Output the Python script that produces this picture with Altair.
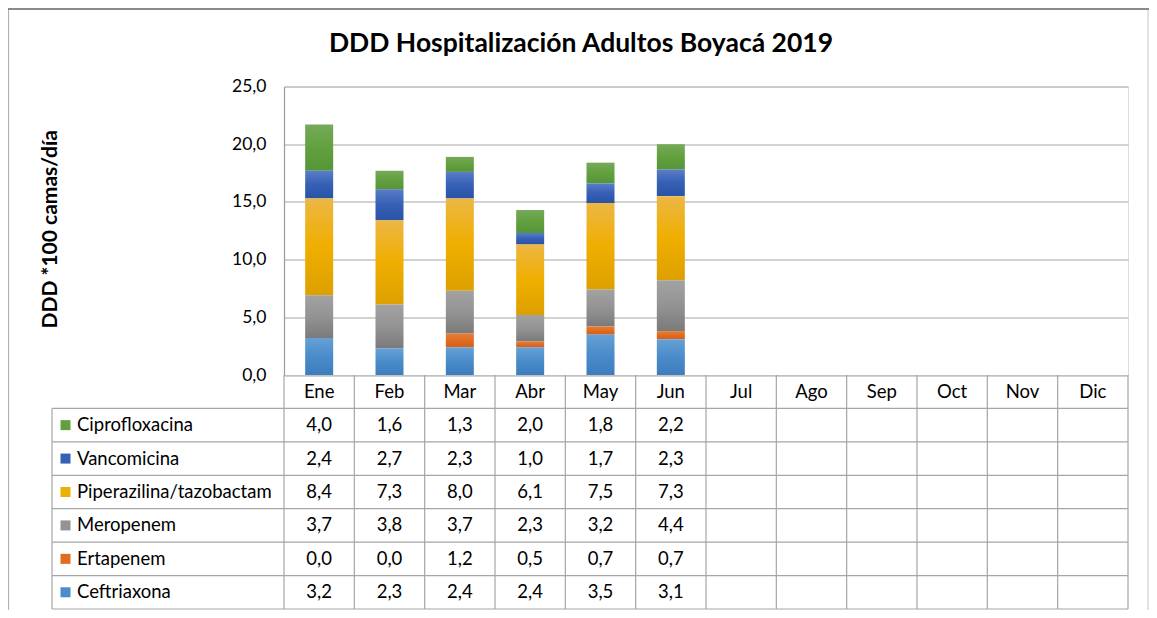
import altair as alt
import pandas as pd

months = ["Ene", "Feb", "Mar", "Abr", "May", "Jun", "Jul", "Ago", "Sep", "Oct", "Nov", "Dic"]
series = ["Ciprofloxacina", "Vancomicina", "Piperazilina/tazobactam", "Meropenem", "Ertapenem", "Ceftriaxona"]

ciprofloxacina = [4.0, 1.6, 1.3, 2.0, 1.8, 2.2]
vancomicina = [2.4, 2.7, 2.3, 1.0, 1.7, 2.3]
piperazilina = [8.4, 7.3, 8.0, 6.1, 7.5, 7.3]
meropenem = [3.7, 3.8, 3.7, 2.3, 3.2, 4.4]
ertapenem = [0.0, 0.0, 1.2, 0.5, 0.7, 0.7]
ceftriaxona = [3.2, 2.3, 2.4, 2.4, 3.5, 3.1]

y_ticks = [0, 5, 10, 15, 20, 25]
title_text = "DDD Hospitalización Adultos Boyacá 2019"

# colours: flat swatch, gradient top / mid / bottom
flat = ["#62a03e", "#3560b5", "#ebb000", "#939393", "#e06c22", "#4a8bc9"]
grads = [
    ("#76a95a", "#62a03e", "#56943a"),
    ("#5a7dc6", "#3560b5", "#2a53a6"),
    ("#ecb745", "#f0ae00", "#dca000"),
    ("#a2a2a2", "#939393", "#7a7a7a"),
    ("#e47d38", "#e06c22", "#d2601a"),
    ("#66a1d6", "#4a8bc9", "#3d7dbe"),
]

all_vals = [ciprofloxacina, vancomicina, piperazilina, meropenem, ertapenem, ceftriaxona]
rows = []
for i, (s, vals) in enumerate(zip(series, all_vals)):
    for m, v in zip(months, vals):
        rows.append({"month": m, "series": s, "value": v, "order": len(series) - i, "ry": i + 1.5})
df = pd.DataFrame(rows)

FONT = "Lato"
TFS = 18.5
W, H = 844, 288.5
LEG_W = 232
GRID = "#a6a6a6"
PAD_L, PAD_T = 276, 78.5
TOTAL_W, TOTAL_H = 1141, 602

xscale = alt.Scale(domain=months, paddingInner=0, paddingOuter=0)
yscale = alt.Scale(domain=[0, 25], nice=False)
rscale = alt.Scale(domain=[0, 7], range=[H, H + 234], nice=False, zero=False)

yaxis = alt.Axis(
    values=y_ticks,
    labelExpr="replace(format(datum.value, '.1f'), '.', ',')",
    title="DDD *100 camas/día",
    titleFont=FONT, titleFontSize=21, titleFontWeight="bold", titleColor="black",
    titleAngle=270, titleX=-228, titleY=H / 2 - 2, titleBaseline="alphabetic", titleAlign="center",
    domain=True, domainColor="#9a9a9a", domainWidth=1.2,
    ticks=False, grid=True, gridColor=GRID, gridWidth=1.2,
    labels=True, labelPadding=18, labelFont=FONT, labelFontSize=17.5, labelColor="black",
)

bar_layers = []
for i, s in enumerate(series):
    top, mid, bot = grads[i]
    grad = alt.LinearGradient(
        gradient="linear",
        stops=[alt.GradientStop(offset=0, color=top),
               alt.GradientStop(offset=0.5, color=mid),
               alt.GradientStop(offset=1, color=bot)],
        x1=0, x2=0, y1=0, y2=1,
    )
    layer = (
        alt.Chart(df)
        .transform_stack(stack="value", groupby=["month"], as_=["y0", "y1"],
                         sort=[alt.SortField("order", order="ascending")])
        .transform_filter(alt.datum.series == s)
        .mark_bar(width=28, color=grad)
        .encode(
            x=alt.X("month:N", scale=xscale, axis=None),
            y=alt.Y("y0:Q", scale=yscale, axis=yaxis if i == 0 else None),
            y2="y1:Q",
        )
    )
    bar_layers.append(layer)

# ---- data table ----
month_df = pd.DataFrame({"month": months, "ry": [0.5] * 12, "r0": [0] * 12, "r1": [7] * 12})
series_df = pd.DataFrame({"series": series, "ry": [i + 1.5 for i in range(6)]})
hline_df = pd.DataFrame({"ry": [1, 2, 3, 4, 5, 6, 7]})
vleft_df = pd.DataFrame({"r0": [1], "r1": [7]})

line_style = dict(color=GRID, strokeWidth=1.2)

hlines = alt.Chart(hline_df).mark_rule(**line_style).encode(
    y=alt.Y("ry:Q", scale=rscale, axis=None),
    x=alt.value(-LEG_W), x2=alt.value(W),
)
vlines = alt.Chart(month_df).mark_rule(**line_style).encode(
    x=alt.X("month:N", scale=xscale, axis=None, bandPosition=0),
    y=alt.Y("r0:Q", scale=rscale, axis=None), y2="r1:Q",
)
vlast = alt.Chart(month_df).transform_filter(alt.datum.month == "Dic").mark_rule(**line_style).encode(
    x=alt.X("month:N", scale=xscale, axis=None, bandPosition=1),
    y=alt.Y("r0:Q", scale=rscale, axis=None), y2="r1:Q",
)
vleft = alt.Chart(vleft_df).mark_rule(**line_style).encode(
    x=alt.value(-LEG_W),
    y=alt.Y("r0:Q", scale=rscale, axis=None), y2="r1:Q",
)
month_text = alt.Chart(month_df).mark_text(font=FONT, fontSize=TFS, color="black").encode(
    x=alt.X("month:N", scale=xscale, axis=None),
    y=alt.Y("ry:Q", scale=rscale, axis=None),
    text="month:N",
)
value_text = (
    alt.Chart(df)
    .transform_calculate(label="replace(format(datum.value, '.1f'), '.', ',')")
    .mark_text(font=FONT, fontSize=TFS, color="black")
    .encode(
        x=alt.X("month:N", scale=xscale, axis=None),
        y=alt.Y("ry:Q", scale=rscale, axis=None),
        text="label:N",
    )
)
name_text = alt.Chart(series_df).mark_text(font=FONT, fontSize=TFS, color="black", align="left").encode(
    x=alt.value(-LEG_W + 25),
    y=alt.Y("ry:Q", scale=rscale, axis=None),
    text="series:N",
)
swatch = alt.Chart(series_df).mark_square(size=100, opacity=1).encode(
    x=alt.value(-LEG_W + 13.5),
    y=alt.Y("ry:Q", scale=rscale, axis=None),
    color=alt.Color("series:N", scale=alt.Scale(domain=series, range=flat), legend=None),
)

one = pd.DataFrame({"t": [title_text]})
frame_left = alt.Chart(one).mark_rule(color="#b0b0b0", strokeWidth=1.2).encode(
    x=alt.value(-PAD_L + 0.5), y=alt.value(-PAD_T), y2=alt.value(TOTAL_H - PAD_T))
frame_right = alt.Chart(one).mark_rule(color="#d0d0d0", strokeWidth=1.2).encode(
    x=alt.value(TOTAL_W - PAD_L - 1), y=alt.value(-PAD_T), y2=alt.value(TOTAL_H - PAD_T))
frame_top = alt.Chart(one).mark_rule(color="#8a8a8a", strokeWidth=2).encode(
    y=alt.value(-PAD_T + 1), x=alt.value(-PAD_L), x2=alt.value(TOTAL_W - PAD_L))
title_mark = alt.Chart(one).mark_text(
    font=FONT, fontSize=26.5, fontWeight="bold", color="black", align="center", baseline="alphabetic"
).encode(x=alt.value(297), y=alt.value(-34.5), text="t:N")

chart = (
    alt.layer(*bar_layers, hlines, vlines, vlast, vleft, month_text, value_text, name_text, swatch,
              frame_left, frame_right, frame_top, title_mark)
    .resolve_scale(y="independent", color="independent")
    .properties(
        width=W, height=H,
        autosize=alt.AutoSizeParams(type="none"),
        padding={"left": PAD_L, "top": PAD_T, "right": TOTAL_W - PAD_L - W,
                 "bottom": TOTAL_H - PAD_T - H},
    )
    .configure_axis(domain=False, grid=False, ticks=False, labels=False)
    .configure_view(strokeWidth=0, stroke="transparent")
    .configure(background="white")
)

chart.save("out.html", embed_options={"renderer": "svg", "actions": False})
